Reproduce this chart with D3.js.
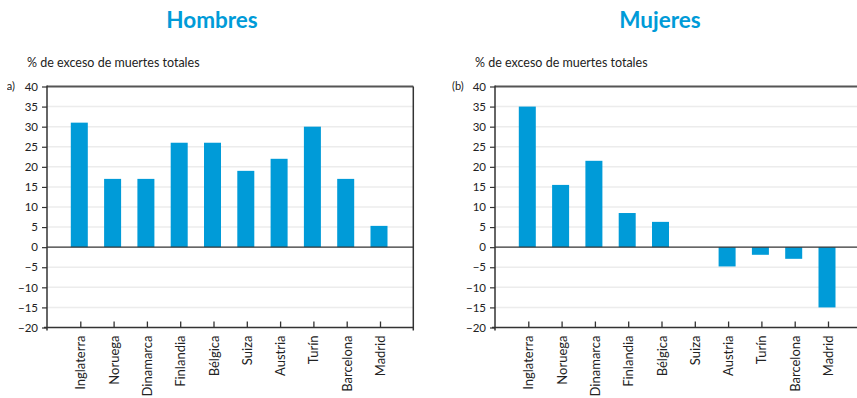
<!DOCTYPE html>
<html><head><meta charset="utf-8">
<script src="https://cdn.jsdelivr.net/npm/d3@7"></script>
<style>
html,body{margin:0;padding:0;background:#fff;}
svg{display:block;font-family:Lato,"Open Sans",sans-serif;}
</style></head>
<body>
<svg id="chart" width="857" height="398"></svg>
<script>
const categories = ["Inglaterra","Noruega","Dinamarca","Finlandia","Bélgica","Suiza","Austria","Turín","Barcelona","Madrid"];
const hombres = [31, 17, 17, 26, 26, 19, 22, 30, 17, 5.3];
const mujeres = [35, 15.5, 21.5, 8.5, 6.3, 0, -4.8, -1.9, -2.9, -15];
const yTicks = [-20,-15,-10,-5,0,5,10,15,20,25,30,35,40];
const titles = ["Hombres","Mujeres"];
const subtitle = "% de exceso de muertes totales";
const panelLabels = ["(a)","(b)"];

const svg = d3.select("#chart");
const blue = "#009bd8";

const defs = svg.append("defs");
defs.append("clipPath").attr("id","clipA").append("rect").attr("x",7).attr("y",0).attr("width",400).attr("height",398);

function panel(x0, values, title, label, idx) {
  const g = svg.append("g");
  const top = 86.5, bottom = 327.5, step = 33.3;
  const right = x0 + step * 11;
  const y = d3.scaleLinear().domain([-20, 40]).range([bottom, top]);
  const x = d3.scalePoint().domain(categories).range([x0, right]).padding(1);

  // title
  g.append("text").attr("x", x0 + 165).attr("y", 28).attr("text-anchor","middle")
    .attr("font-size", 22.5).attr("font-weight", 700).attr("fill", blue).text(title);
  g.append("text").attr("x", x0 - 20).attr("y", 67).attr("font-size", 12.5).attr("fill","#222").text(subtitle);
  const lab = g.append("text").attr("x", x0 - 43).attr("y", 90).attr("font-size", 11).attr("fill","#222").text(label);
  if (idx === 0) lab.attr("clip-path","url(#clipA)");

  // gridlines
  g.selectAll("line.grid").data(yTicks.filter(t => t !== 0 && t !== 40 && t !== -20)).enter()
    .append("line").attr("x1", x0).attr("x2", right).attr("y1", d => y(d)).attr("y2", d => y(d))
    .attr("stroke", "#ececec").attr("stroke-width", 1.5);

  // bars
  const bw = 17;
  g.selectAll("rect.bar").data(values).enter().append("rect")
    .attr("x", (d,i) => x(categories[i]) - bw/2 - 1)
    .attr("width", bw)
    .attr("y", d => y(Math.max(0, d)))
    .attr("height", d => Math.abs(y(d) - y(0)))
    .attr("fill", blue);

  // top border
  g.append("line").attr("x1", x0).attr("x2", right).attr("y1", top).attr("y2", top)
    .attr("stroke", "#555").attr("stroke-width", 2);
  // zero line
  g.append("line").attr("x1", x0).attr("x2", right).attr("y1", y(0)).attr("y2", y(0))
    .attr("stroke", "#333").attr("stroke-width", 1.3);
  // bottom axis
  const xAxis = d3.axisBottom(x).tickSize(0).tickPadding(0);
  const xg = g.append("g").attr("transform", `translate(0,${bottom})`).call(xAxis);
  xg.select(".domain").remove();
  xg.selectAll(".tick line").remove();
  xg.selectAll(".tick").append("line").attr("y1", 0).attr("y2", -6).attr("stroke","#333").attr("stroke-width",1.3);
  xg.selectAll(".tick text").attr("transform","rotate(-90)").attr("x", -8).attr("y", 0).attr("dy","0.35em")
    .attr("text-anchor","end").attr("font-size", 13).attr("fill","#222").attr("font-family", "Lato, 'Open Sans', sans-serif");
  g.append("line").attr("x1", x0 - 3).attr("x2", right).attr("y1", bottom).attr("y2", bottom)
    .attr("stroke", "#333").attr("stroke-width", 1.5);
  // right border
  g.append("line").attr("x1", right).attr("x2", right).attr("y1", top).attr("y2", bottom + 3)
    .attr("stroke", "#333").attr("stroke-width", 1.5);

  // y axis
  const yAxis = d3.axisLeft(y).tickValues(yTicks).tickSize(5).tickPadding(4);
  const yg = g.append("g").attr("transform", `translate(${x0},0)`).call(yAxis);
  yg.select(".domain").remove();
  yg.selectAll(".tick line").attr("stroke","#333").attr("stroke-width",1.2);
  yg.selectAll(".tick text").attr("font-size", 11.5).attr("fill","#222").attr("font-family", "Lato, 'Open Sans', sans-serif");
  g.append("line").attr("x1", x0).attr("x2", x0).attr("y1", top - 1).attr("y2", bottom + 3)
    .attr("stroke", "#333").attr("stroke-width", 1.5);
}

panel(47, hombres, titles[0], panelLabels[0], 0);
panel(495, mujeres, titles[1], panelLabels[1], 1);
</script>
</body></html>
